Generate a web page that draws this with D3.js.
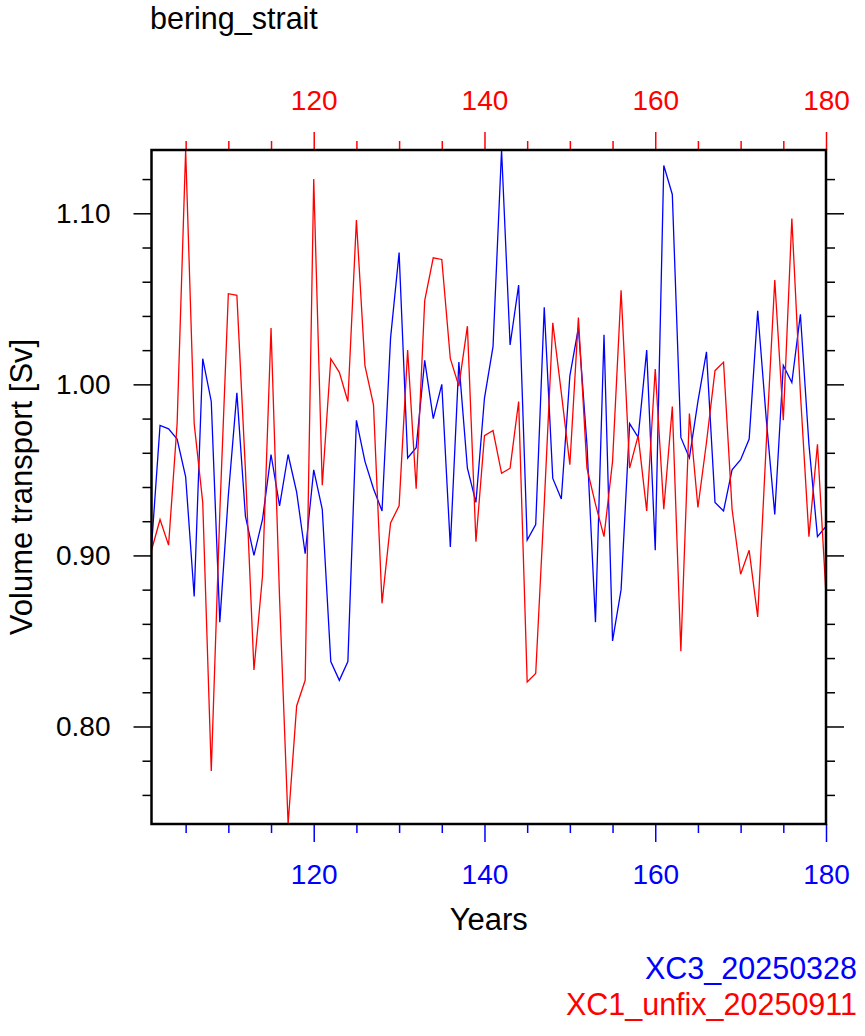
<!DOCTYPE html>
<html>
<head>
<meta charset="utf-8">
<script src="https://cdn.jsdelivr.net/npm/d3@7"></script>
<style>
  body { margin: 0; background: #fff; }
  svg { display: block; }
  text { font-family: "Liberation Sans", Arial, Helvetica, sans-serif; }
</style>
</head>
<body>
<svg id="chart" width="865" height="1036"></svg>
<script>
// ---- data ----
const years = d3.range(101, 181);
const xc3 = [0.905,0.976,0.974,0.968,0.946,0.876,1.015,0.990,0.861,0.935,
             0.995,0.923,0.900,0.921,0.959,0.929,0.959,0.937,0.901,0.950,
             0.927,0.838,0.827,0.838,0.979,0.955,0.939,0.926,1.027,1.077,
             0.957,0.963,1.014,0.980,1.000,0.905,1.013,0.951,0.931,0.992,
             1.022,1.137,1.023,1.058,0.909,0.918,1.045,0.945,0.933,1.005,
             1.033,0.965,0.861,1.029,0.850,0.880,0.977,0.969,1.020,0.903,
             1.128,1.111,0.969,0.957,0.990,1.019,0.931,0.926,0.950,0.956,
             0.968,1.043,0.980,0.924,1.011,1.001,1.041,0.965,0.911,0.917];
const xc1 = [0.903,0.921,0.906,0.977,1.137,0.977,0.931,0.774,0.925,1.053,
             1.052,0.950,0.833,0.888,1.033,0.875,0.743,0.812,0.827,1.120,
             0.941,1.015,1.007,0.990,1.096,1.011,0.988,0.872,0.919,0.929,
             1.020,0.939,1.049,1.074,1.073,1.015,0.999,1.034,0.908,0.970,
             0.973,0.948,0.951,0.990,0.826,0.831,0.930,1.036,0.995,0.953,
             1.039,0.951,0.930,0.911,0.955,1.055,0.951,0.970,0.926,1.009,
             0.927,0.987,0.844,0.983,0.928,0.966,1.008,1.013,0.927,0.889,
             0.903,0.864,0.965,1.061,0.979,1.097,0.995,0.911,0.965,0.877];
const xMajor = [120, 140, 160, 180];
const xMinor = [105,110,115,125,130,135,145,150,155,165,170,175];
const yMajor = [0.80, 0.90, 1.00, 1.10];
const yMinor = [0.76,0.78,0.82,0.84,0.86,0.88,0.92,0.94,0.96,0.98,1.02,1.04,1.06,1.08,1.12];
const seriesNames = ["XC3_20250328", "XC1_unfix_20250911"];
const seriesColors = ["#0000ff", "#ff0000"];
const titleText = "bering_strait";
const xTitle = "Years";
const yTitle = "Volume transport [Sv]";

// ---- layout ----
const L = 151.5, R = 826, T = 150, B = 824;
const svg = d3.select("#chart");

const x = d3.scaleLinear().domain([101, 180]).range([L, R]);
const allVals = xc3.concat(xc1);
const y = d3.scaleLinear().domain(d3.extent(allVals)).range([B, T]);

const font = '"Liberation Sans", Arial, Helvetica, sans-serif';

// lines
const line = d3.line().x((d, i) => x(years[i])).y(d => y(d));
[xc3, xc1].forEach((s, k) => {
  svg.append("path").datum(s)
    .attr("d", line)
    .attr("fill", "none")
    .attr("stroke", seriesColors[k])
    .attr("stroke-width", 1.3)
    .attr("stroke-linejoin", "miter");
});

function styleAxis(g, color) {
  g.select(".domain").remove();
  g.selectAll("line").attr("stroke", color).attr("stroke-width", 1.5);
  g.selectAll("text").attr("fill", color).style("font-family", font).style("font-size", "28px");
}

// bottom (blue)
const gBot = svg.append("g").attr("transform", `translate(0,${B})`);
gBot.call(d3.axisBottom(x).tickValues(xMajor).tickFormat(d3.format("d")).tickSize(18).tickPadding(22));
styleAxis(gBot, "#0000ff");
const gBotMin = svg.append("g").attr("transform", `translate(0,${B})`);
gBotMin.call(d3.axisBottom(x).tickValues(xMinor).tickFormat("").tickSize(9));
styleAxis(gBotMin, "#0000ff");

// top (red)
const gTop = svg.append("g").attr("transform", `translate(0,${T})`);
gTop.call(d3.axisTop(x).tickValues(xMajor).tickFormat(d3.format("d")).tickSize(18).tickPadding(22));
styleAxis(gTop, "#ff0000");
const gTopMin = svg.append("g").attr("transform", `translate(0,${T})`);
gTopMin.call(d3.axisTop(x).tickValues(xMinor).tickFormat("").tickSize(9));
styleAxis(gTopMin, "#ff0000");

// left
const gLeft = svg.append("g").attr("transform", `translate(${L},0)`);
gLeft.call(d3.axisLeft(y).tickValues(yMajor).tickFormat(d3.format(".2f")).tickSize(18).tickPadding(23));
styleAxis(gLeft, "#000");
const gLeftMin = svg.append("g").attr("transform", `translate(${L},0)`);
gLeftMin.call(d3.axisLeft(y).tickValues(yMinor).tickFormat("").tickSize(9));
styleAxis(gLeftMin, "#000");

// right
const gRight = svg.append("g").attr("transform", `translate(${R},0)`);
gRight.call(d3.axisRight(y).tickValues(yMajor).tickFormat("").tickSize(18));
styleAxis(gRight, "#000");
const gRightMin = svg.append("g").attr("transform", `translate(${R},0)`);
gRightMin.call(d3.axisRight(y).tickValues(yMinor).tickFormat("").tickSize(9));
styleAxis(gRightMin, "#000");

// frame
svg.append("rect")
  .attr("x", L).attr("y", T).attr("width", R - L).attr("height", B - T)
  .attr("fill", "none").attr("stroke", "#000").attr("stroke-width", 2.5);

// titles
svg.append("text").attr("x", 150).attr("y", 29)
  .style("font-size", "30.5px").attr("fill", "#000").text(titleText);

svg.append("text").attr("x", (L + R) / 2).attr("y", 930)
  .attr("text-anchor", "middle").style("font-size", "31px").attr("fill", "#000").text(xTitle);

svg.append("text")
  .attr("transform", `translate(32,${(T + B) / 2}) rotate(-90)`)
  .attr("text-anchor", "middle").style("font-size", "31px").attr("fill", "#000").text(yTitle);

// legend
const legY = [979, 1015];
seriesNames.forEach((n, k) => {
  svg.append("text").attr("x", 857).attr("y", legY[k])
    .attr("text-anchor", "end").style("font-size", "30.5px")
    .attr("fill", seriesColors[k]).text(n);
});
</script>
</body>
</html>
